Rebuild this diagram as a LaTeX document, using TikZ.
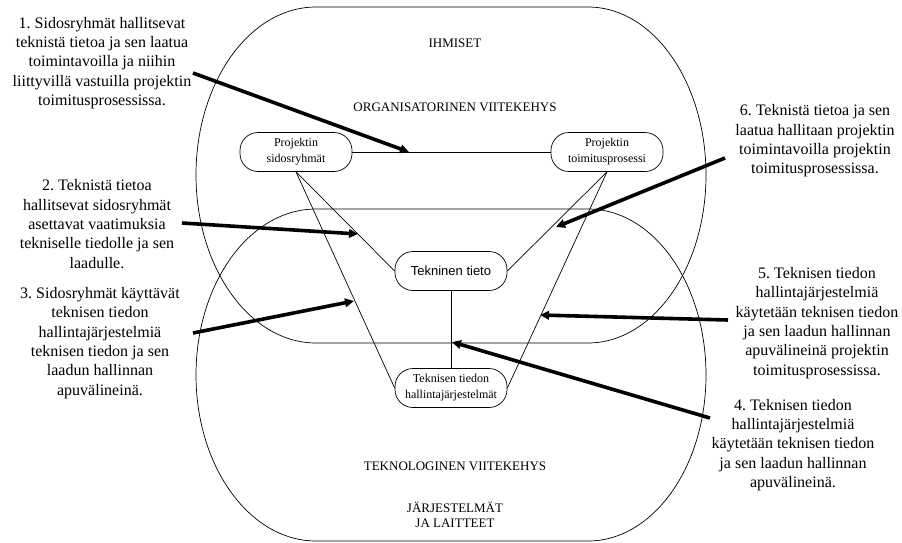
\documentclass[tikz,border=0pt]{standalone}
\usepackage{fontspec}
\setmainfont{Liberation Serif}
\newfontfamily\arialfont{Liberation Sans}
\usetikzlibrary{arrows.meta}
\frenchspacing
\begin{document}
\begin{tikzpicture}[x=1pt,y=-1pt,
  frame/.style={draw=black,line width=0.7pt},
  box/.style={draw=black,line width=0.7pt,fill=white,rectangle,rounded corners=18pt,minimum width=112pt,minimum height=39pt,inner sep=1pt,align=center,font=\rmfamily\fontsize{12}{16}\selectfont},
  thin/.style={draw=black,line width=0.7pt},
  thick/.style={draw=black,line width=3.6pt,-{Triangle[length=9pt,width=8.5pt]}},
  note/.style={align=center,font=\rmfamily\fontsize{16}{19.3}\selectfont,inner sep=0pt},
  caps/.style={align=center,font=\rmfamily\fontsize{13}{15}\selectfont,inner sep=0pt}]
\useasboundingbox (0,0) rectangle (902,542);
% frames
\draw[frame] (316,7) -- (588,7) arc[start angle=-90,end angle=90,x radius=118,y radius=168] -- (316,343) arc[start angle=90,end angle=270,x radius=120,y radius=168] -- cycle;
\draw[frame] (316,209) -- (588,209) arc[start angle=-90,end angle=90,x radius=118,y radius=166] -- (316,541) arc[start angle=90,end angle=270,x radius=120,y radius=166] -- cycle;
% frame labels
\node[caps] (ihm) at (455,43) {IHMISET};
\node[caps] (org) at (455,107) {ORGANISATORINEN VIITEKEHYS};
\node[caps] (tek) at (455,466) {TEKNOLOGINEN VIITEKEHYS};
\node[caps] (jar) at (455,515) {JÄRJESTELMÄT\\JA LAITTEET};
% nodes
\node[box] (sid) at (296,152) {Projektin\\sidosryhmät};
\node[box] (toi) at (607,152) {Projektin\\toimitusprosessi};
\node[box,font=\arialfont\fontsize{13}{16}\selectfont] (tt) at (451,271) {Tekninen tieto};
\node[box] (hal) at (451,388) {Teknisen tiedon\\hallintajärjestelmät};
% connectors
\draw[thin] (sid) -- (toi);
\draw[thin] (sid.south) -- (tt.west);
\draw[thin] (sid.south) -- (hal.west);
\draw[thin] (toi.south) -- (tt.east);
\draw[thin] (toi.south) -- (hal.east);
\draw[thin] (tt) -- (hal);
% notes
\node[note] (n1) at (102,63) {1. Sidosryhmät hallitsevat\\teknistä tietoa ja sen laatua\\toimintavoilla ja niihin\\liittyvillä vastuilla projektin\\toimitusprosessissa.};
\node[note] (n2) at (97,224) {2. Teknistä tietoa\\hallitsevat sidosryhmät\\asettavat vaatimuksia\\tekniselle tiedolle ja sen\\laadulle.};
\node[note] (n3) at (100,343) {3. Sidosryhmät käyttävät\\teknisen tiedon\\hallintajärjestelmiä\\teknisen tiedon ja sen\\laadun hallinnan\\apuvälineinä.};
\node[note] (n4) at (793,445) {4. Teknisen tiedon\\hallintajärjestelmiä\\käytetään teknisen tiedon\\ja sen laadun hallinnan\\apuvälineinä.};
\node[note] (n5) at (817,323) {5. Teknisen tiedon\\hallintajärjestelmiä\\käytetään teknisen tiedon\\ja sen laadun hallinnan\\apuvälineinä projektin\\toimitusprosessissa.};
\node[note] (n6) at (815,141) {6. Teknistä tietoa ja sen\\laatua hallitaan projektin\\toimintavoilla projektin\\toimitusprosessissa.};
% arrow coordinates
\coordinate (a1s) at (193,73);  \coordinate (a1e) at (409,152);
\coordinate (a2s) at (182,223); \coordinate (a2e) at (358,234);
\coordinate (a3s) at (193,333); \coordinate (a3e) at (354,301);
\coordinate (a4s) at (710,418); \coordinate (a4e) at (452,342);
\coordinate (a5s) at (728,320); \coordinate (a5e) at (540,315);
\coordinate (a6s) at (725,158); \coordinate (a6e) at (556,227);
\draw[thick] (a1s) -- (a1e);
\draw[thick] (a2s) -- (a2e);
\draw[thick] (a3s) -- (a3e);
\draw[thick] (a4s) -- (a4e);
\draw[thick] (a5s) -- (a5e);
\draw[thick] (a6s) -- (a6e);
\end{tikzpicture}
\end{document}
